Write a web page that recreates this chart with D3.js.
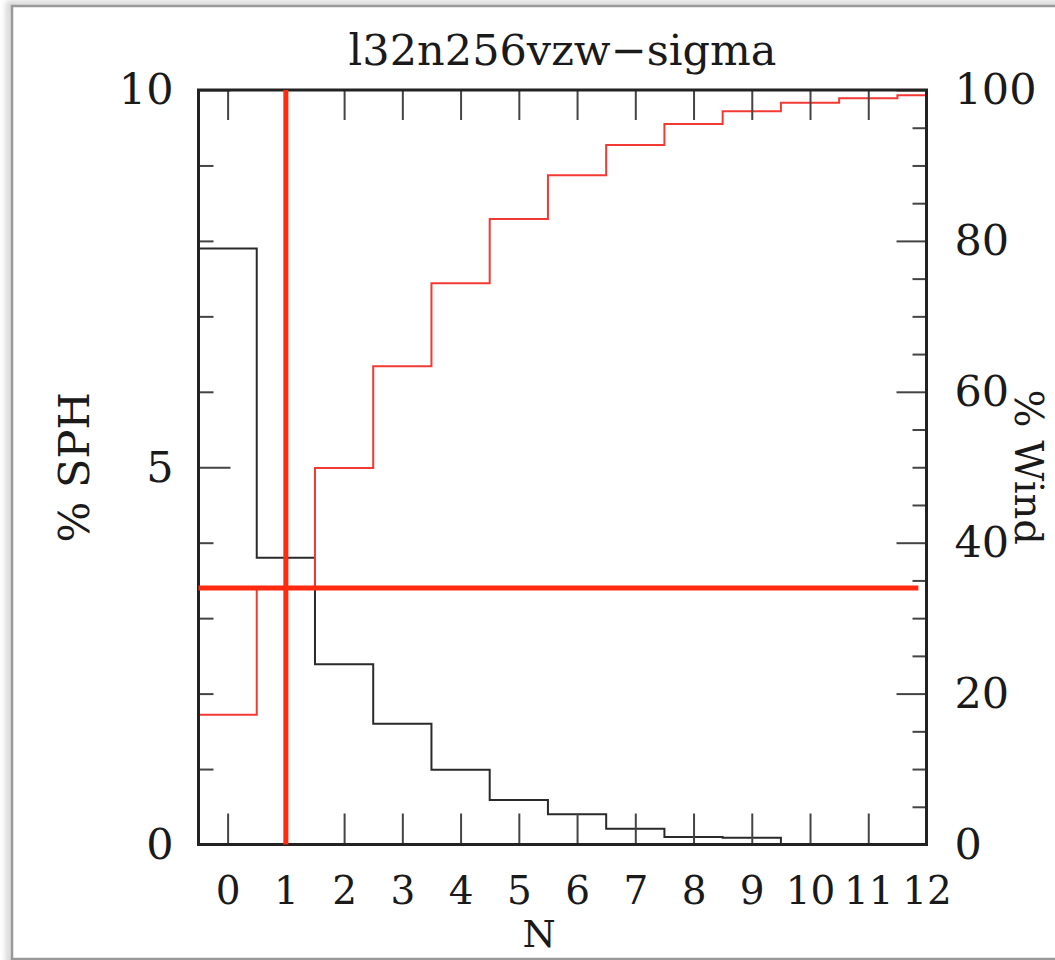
<!DOCTYPE html>
<meta charset="utf-8">
<style>
    body {
        margin: 0;
        background: #fff;
    }

    #graph text {
        font-family: 'DejaVu Serif', serif;
        fill: #1a1a1a;
    }
</style>
<script src="https://d3js.org/d3.v7.min.js"></script>
<div id="graph"></div>
<script>
    // chart data
    const nValues = [0, 1, 2, 3, 4, 5, 6, 7, 8, 9, 10, 11, 12];
    const sphPct = [7.9, 3.8, 2.39, 1.6, 0.99, 0.59, 0.40, 0.21, 0.10, 0.09, 0, 0, 0];
    const windCum = [17.2, 34.0, 49.9, 63.4, 74.4, 82.9, 88.7, 92.7, 95.5, 97.2, 98.3, 98.9, 99.3];
    const leftMajor = [0, 5, 10],
        leftMinor = [1, 2, 3, 4, 6, 7, 8, 9];
    const rightMajor = [0, 20, 40, 60, 80, 100],
        rightMinor = [5, 10, 15, 25, 30, 35, 45, 50, 55, 65, 70, 75, 85, 90, 95];
    const markN = 1,          // vertical red marker
        markWind = 34.0,      // horizontal red marker (right axis)
        markEnd = 11.86;
    const title = "l32n256vzw\u2212sigma";

    const W = 1055, H = 960;
    const frame = {left: 198.5, right: 926.5, top: 90, bottom: 844.5};

    const svg = d3.select("#graph").append("svg")
        .attr("width", W)
        .attr("height", H);

    // screenshot border with a soft shadow
    const defs = svg.append("defs");
    defs.append("filter").attr("id", "blur")
        .append("feGaussianBlur").attr("stdDeviation", 3);
    svg.append("rect")
        .attr("x", 9).attr("y", 4).attr("width", 1100).attr("height", 957)
        .attr("fill", "none").attr("stroke", "#bbb").attr("stroke-width", 4)
        .attr("filter", "url(#blur)");
    svg.append("rect")
        .attr("x", 12).attr("y", 6).attr("width", 1100).attr("height", 953)
        .attr("fill", "#fff").attr("stroke", "#999").attr("stroke-width", 2.5);

    const x = d3.scaleLinear().domain([-0.5, 12]).range([frame.left, frame.right]);
    const yL = d3.scaleLinear().domain([0, 10]).range([frame.bottom, frame.top]);
    const yR = d3.scaleLinear().domain([0, 100]).range([frame.bottom, frame.top]);

    // step curves: bins centred on each integer N
    const stepLine = (yScale) => d3.line()
        .x(d => x(d[0]))
        .y(d => yScale(d[1]))
        .curve(d3.curveStepAfter);

    const toSteps = vals => {
        const pts = nValues.map((n, i) => [n - 0.5, vals[i]]);
        pts.push([12, vals[vals.length - 1]]);
        return pts;
    };

    svg.append("path")
        .datum(toSteps(sphPct))
        .attr("d", stepLine(yL))
        .attr("fill", "none")
        .attr("stroke", "#2a2a2a")
        .attr("stroke-width", 2);

    svg.append("path")
        .datum(toSteps(windCum))
        .attr("d", stepLine(yR))
        .attr("fill", "none")
        .attr("stroke", "#f23a34")
        .attr("stroke-width", 2);

    // axes (ticks point inwards)
    const tickStyle = g => {
        g.select(".domain").remove();
        g.selectAll(".tick line").attr("stroke", "#444").attr("stroke-width", 2);
        g.selectAll("text").attr("font-family", "DejaVu Serif").attr("fill", "#1a1a1a");
    };

    svg.append("g")
        .attr("transform", `translate(0,${frame.bottom})`)
        .call(d3.axisBottom(x).tickValues(nValues).tickSize(-31).tickPadding(31))
        .call(tickStyle)
        .call(g => g.selectAll("text").attr("font-size", 39).attr("dy", "0.72em"));

    svg.append("g")
        .attr("transform", `translate(0,${frame.top})`)
        .call(d3.axisTop(x).tickValues(nValues).tickSize(-30).tickFormat(""))
        .call(tickStyle);

    svg.append("g")
        .attr("transform", `translate(${frame.left},0)`)
        .call(d3.axisLeft(yL).tickValues(leftMajor).tickSize(-32).tickPadding(25))
        .call(tickStyle)
        .call(g => g.selectAll("text").attr("font-size", 43));
    svg.append("g")
        .attr("transform", `translate(${frame.left},0)`)
        .call(d3.axisLeft(yL).tickValues(leftMinor).tickSize(-15).tickFormat(""))
        .call(tickStyle);

    svg.append("g")
        .attr("transform", `translate(${frame.right},0)`)
        .call(d3.axisRight(yR).tickValues(rightMajor).tickSize(-30).tickPadding(28))
        .call(tickStyle)
        .call(g => g.selectAll("text").attr("font-size", 43));
    svg.append("g")
        .attr("transform", `translate(${frame.right},0)`)
        .call(d3.axisRight(yR).tickValues(rightMinor).tickSize(-14).tickFormat(""))
        .call(tickStyle);

    // frame
    svg.append("rect")
        .attr("x", frame.left).attr("y", frame.top)
        .attr("width", frame.right - frame.left)
        .attr("height", frame.bottom - frame.top)
        .attr("fill", "none")
        .attr("stroke", "#222")
        .attr("stroke-width", 3);

    // thick red markers
    svg.append("line")
        .attr("x1", x(markN)).attr("x2", x(markN))
        .attr("y1", yL(0)).attr("y2", yL(10))
        .attr("stroke", "#ff2a10").attr("stroke-width", 5);
    svg.append("line")
        .attr("x1", x(-0.5)).attr("x2", x(markEnd))
        .attr("y1", yR(markWind)).attr("y2", yR(markWind))
        .attr("stroke", "#ff2a10").attr("stroke-width", 5);

    // titles
    svg.append("text")
        .attr("x", (frame.left + frame.right) / 2)
        .attr("y", 65)
        .attr("text-anchor", "middle")
        .attr("font-size", 43)
        .text(title);

    svg.append("text")
        .attr("x", 539)
        .attr("y", 947)
        .attr("text-anchor", "middle")
        .attr("font-size", 38)
        .text("N");

    svg.append("text")
        .attr("transform", `translate(89,${(frame.top + frame.bottom) / 2})rotate(-90)`)
        .attr("text-anchor", "middle")
        .attr("font-size", 43)
        .text("% SPH");

    svg.append("text")
        .attr("transform", `translate(1015,${(frame.top + frame.bottom) / 2})rotate(90)`)
        .attr("text-anchor", "middle")
        .attr("font-size", 40)
        .text("% Wind");
</script>
